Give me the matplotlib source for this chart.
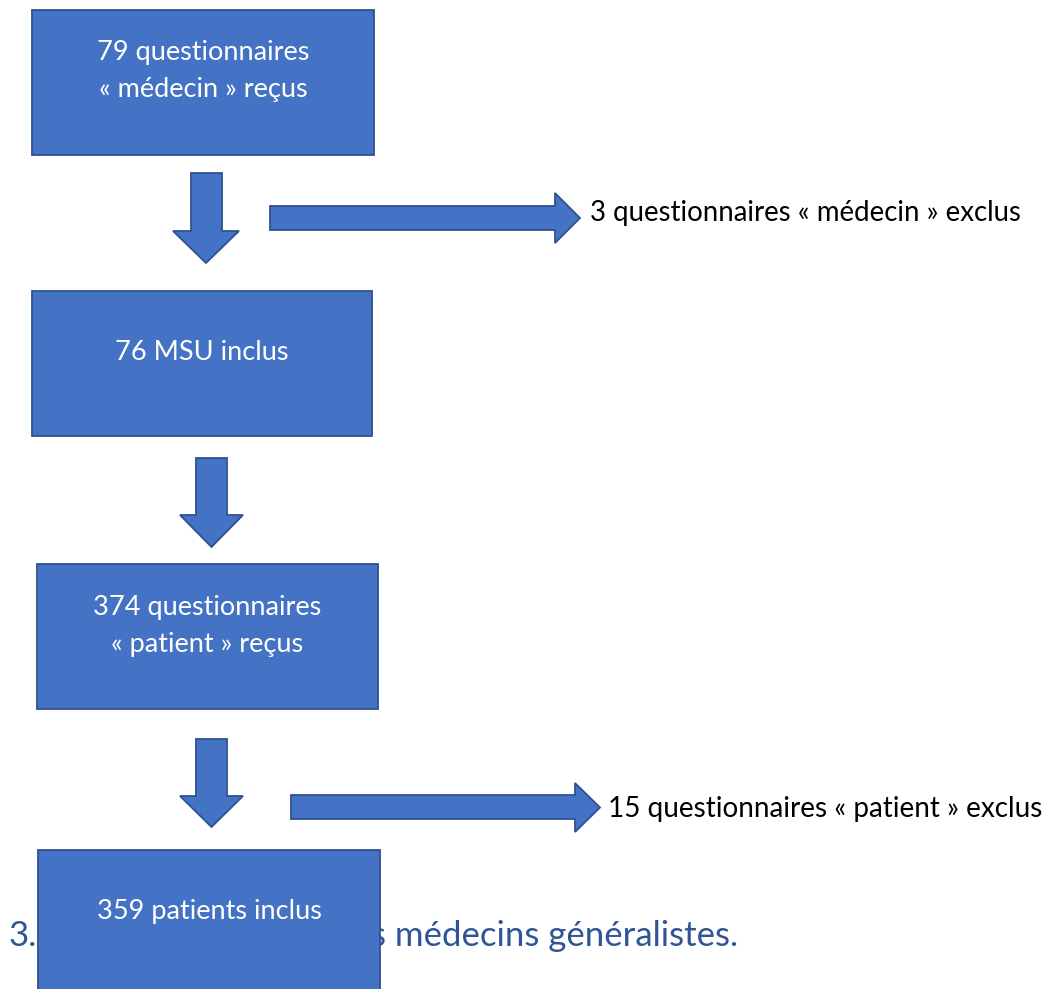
import matplotlib.pyplot as plt
from matplotlib.patches import Polygon, Rectangle

# flowchart content
box_labels = [
    "79 questionnaires\n« médecin » reçus",
    "76 MSU inclus",
    "374 questionnaires\n« patient » reçus",
    "359 patients inclus",
]
excluded_labels = [
    "3 questionnaires « médecin » exclus",
    "15 questionnaires « patient » exclus",
]
heading_parts = ["3.", "s médecins généralistes."]

FILL = "#4472C4"
EDGE = "#2F528F"
HEAD = "#2F5597"
FONT = ["Lato", "DejaVu Sans"]


def add_box(ax, x0, y0, x1, y1, text, text_y):
    ax.add_patch(Rectangle((x0, y0), x1 - x0, y1 - y0, facecolor=FILL,
                           edgecolor=EDGE, linewidth=1.3, zorder=3))
    ax.text((x0 + x1) / 2, text_y, text, ha="center", va="center", color="white",
            fontsize=19.5, family=FONT, linespacing=1.6, zorder=4)


def down_arrow(ax, x0, x1, top, neck, hx0, hx1, tip):
    xm = (hx0 + hx1) / 2
    pts = [(x0, top), (x1, top), (x1, neck), (hx1, neck), (xm, tip),
           (hx0, neck), (x0, neck)]
    ax.add_patch(Polygon(pts, closed=True, facecolor=FILL, edgecolor=EDGE,
                         linewidth=1.3, zorder=3))


def right_arrow(ax, left, y0, y1, neck, hy0, hy1, tip):
    ym = (hy0 + hy1) / 2
    pts = [(left, y0), (neck, y0), (neck, hy0), (tip, ym), (neck, hy1),
           (neck, y1), (left, y1)]
    ax.add_patch(Polygon(pts, closed=True, facecolor=FILL, edgecolor=EDGE,
                         linewidth=1.3, zorder=3))


fig = plt.figure(figsize=(10.5, 9.89), dpi=100)
ax = fig.add_axes([0, 0, 1, 1])
ax.set_xlim(0, 1050)
ax.set_ylim(989, 0)
ax.axis("off")

add_box(ax, 32, 10, 374, 155, box_labels[0], 71)
add_box(ax, 32, 291, 372, 436, box_labels[1], 352)
add_box(ax, 37, 564, 378, 709, box_labels[2], 626)
add_box(ax, 38, 850, 380, 1000, box_labels[3], 912)

down_arrow(ax, 191, 222, 173, 231, 173, 239, 263)
down_arrow(ax, 196, 227, 458, 515, 180, 243, 547)
down_arrow(ax, 196, 227, 739, 796, 180, 243, 827)

right_arrow(ax, 270, 206, 230, 555, 193, 243, 580)
right_arrow(ax, 291, 795, 819, 575, 783, 832, 600)

ax.text(590, 213, excluded_labels[0], ha="left", va="center", fontsize=19.9,
        family=FONT, color="black")
ax.text(608, 809, excluded_labels[1], ha="left", va="center", fontsize=20.1,
        family=FONT, color="black")

ax.text(8, 946, heading_parts[0], ha="left", va="baseline", fontsize=25,
        family=FONT, color=HEAD, zorder=1)
ax.text(371, 946, heading_parts[1], ha="left", va="baseline", fontsize=25,
        family=FONT, color=HEAD, zorder=1)

fig.savefig("out.png", dpi=100)
plt.close(fig)
